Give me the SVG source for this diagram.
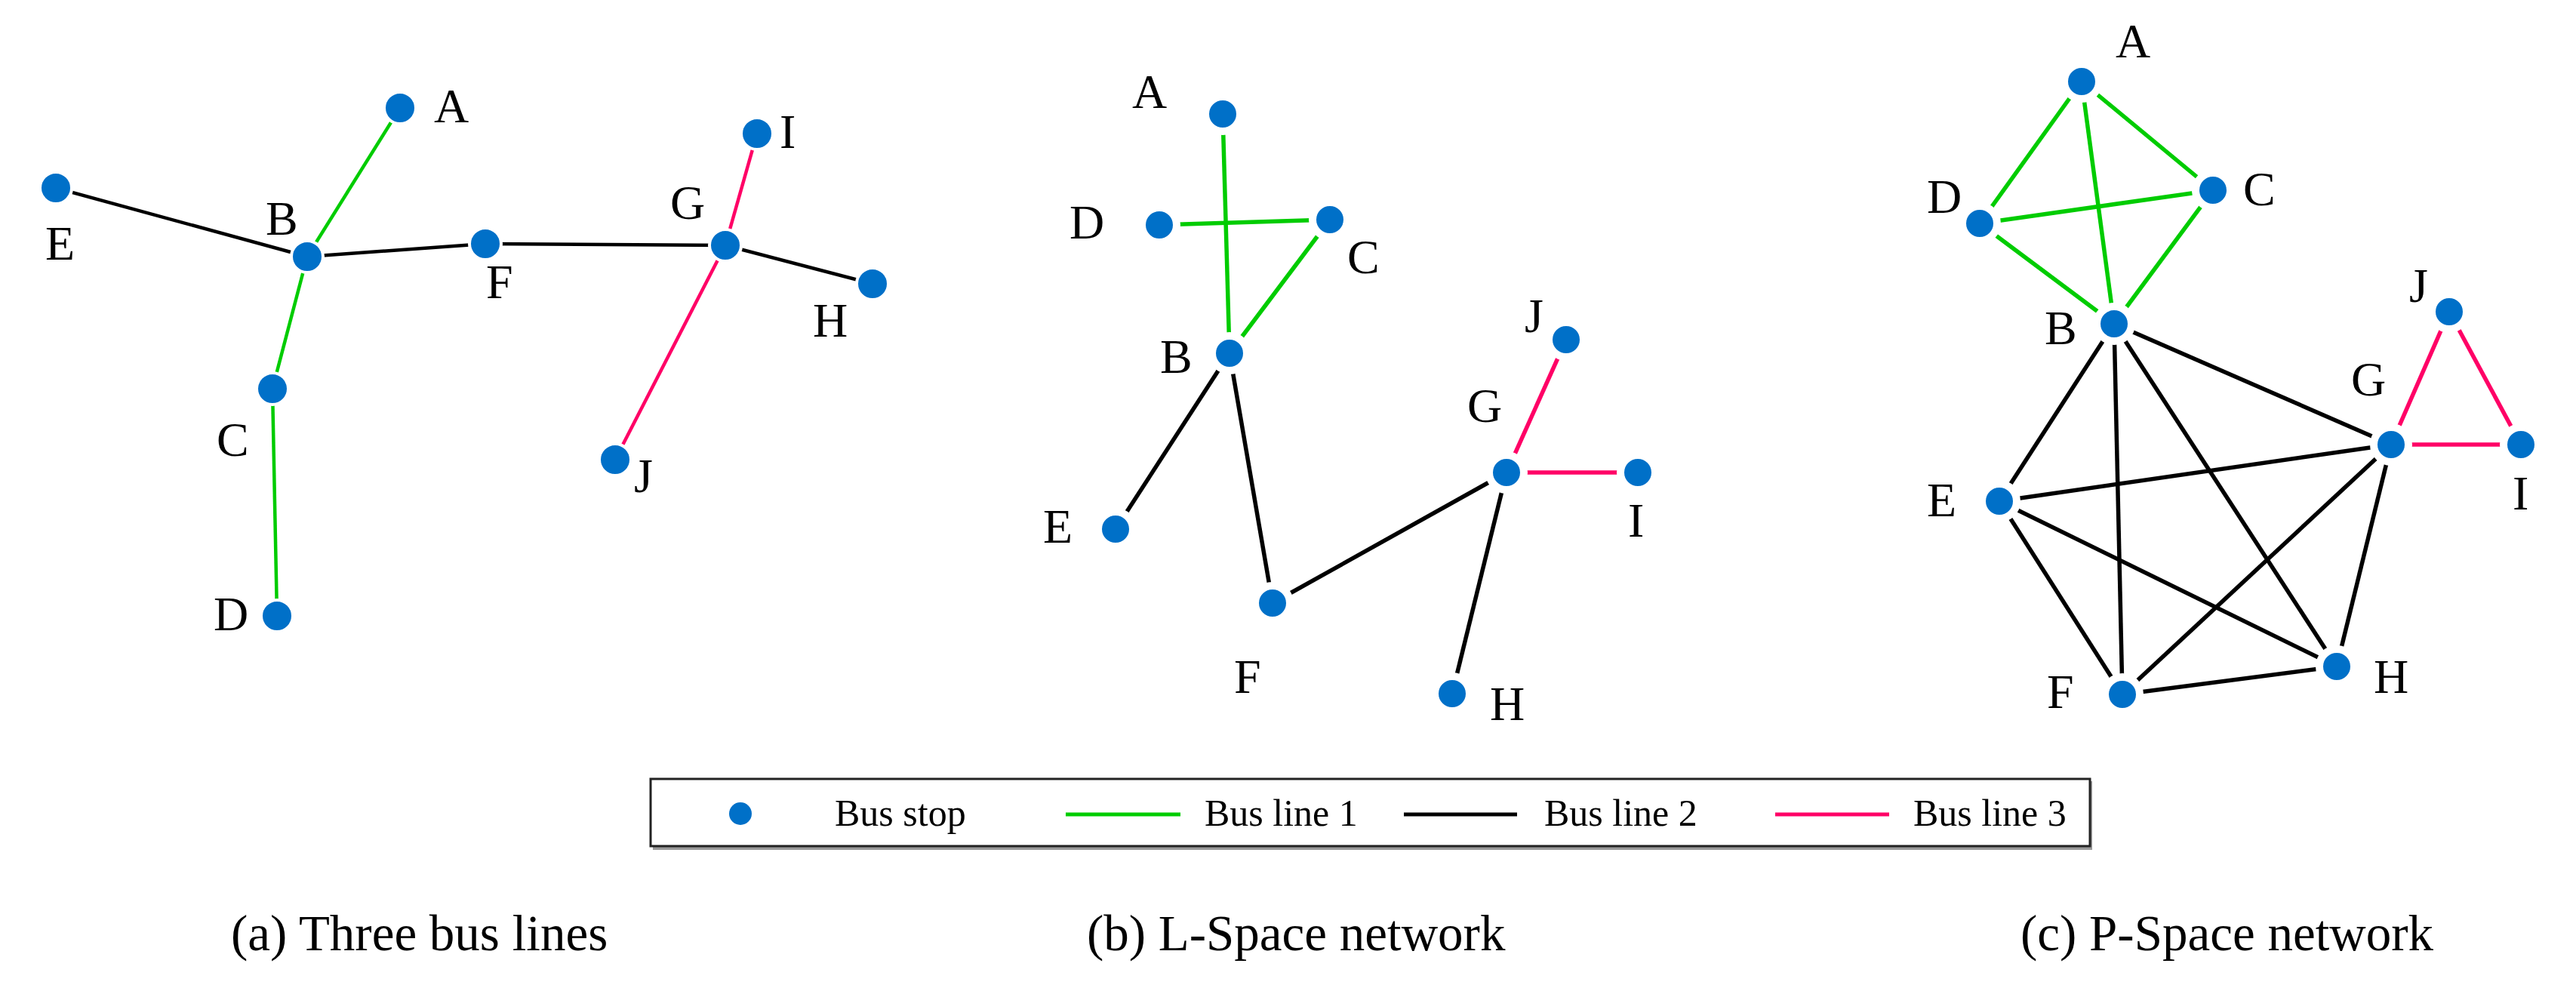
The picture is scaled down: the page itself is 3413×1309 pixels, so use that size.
<svg xmlns="http://www.w3.org/2000/svg" width="3413" height="1309" viewBox="0 0 3413 1309">
<style>
.stop{fill:#0070c8}
.pa .stop{stroke:#fff;stroke-width:4}
.pb .stop,.pc .stop{stroke:#fff;stroke-width:10}
.e{fill:none;stroke-linecap:butt}
.pa .e{stroke-width:4.5}
.pb .e,.pc .e{stroke-width:5.5}
.l1{stroke:#00cc00}
.l2{stroke:#000}
.l3{stroke:#ff0066}
.lbl{font-family:"Liberation Serif","Times New Roman",serif;font-size:64px;fill:#000}
.leg{font-family:"Liberation Serif","Times New Roman",serif;font-size:50px;fill:#000}
.cap{font-family:"Liberation Serif","Times New Roman",serif;font-size:67px;fill:#000}
</style>
<rect width="3413" height="1309" fill="#fff"/>

<!-- Panel (a) -->
<g class="pa">
<g id="a-connectors">
<line class="e l1" x1="530" y1="143" x2="407" y2="340"/>
<line class="e l1" x1="407" y1="340" x2="361" y2="515"/>
<line class="e l1" x1="361" y1="515" x2="367" y2="816"/>
<line class="e l2" x1="74" y1="249" x2="407" y2="340"/>
<line class="e l2" x1="407" y1="340" x2="643" y2="323"/>
<line class="e l2" x1="643" y1="323" x2="961" y2="325"/>
<line class="e l2" x1="961" y1="325" x2="1156" y2="376"/>
<line class="e l3" x1="1003" y1="177" x2="961" y2="325"/>
<line class="e l3" x1="961" y1="325" x2="815" y2="609"/>
</g>
<g id="a-A"><circle class="stop" cx="530" cy="143" r="21"/><text class="lbl" x="575" y="162">A</text></g>
<g id="a-B"><circle class="stop" cx="407" cy="340" r="21"/><text class="lbl" x="352" y="311">B</text></g>
<g id="a-C"><circle class="stop" cx="361" cy="515" r="21"/><text class="lbl" x="287" y="604">C</text></g>
<g id="a-D"><circle class="stop" cx="367" cy="816" r="21"/><text class="lbl" x="283" y="835">D</text></g>
<g id="a-E"><circle class="stop" cx="74" cy="249" r="21"/><text class="lbl" x="60" y="344">E</text></g>
<g id="a-F"><circle class="stop" cx="643" cy="323" r="21"/><text class="lbl" x="644" y="395">F</text></g>
<g id="a-G"><circle class="stop" cx="961" cy="325" r="21"/><text class="lbl" x="888" y="290">G</text></g>
<g id="a-H"><circle class="stop" cx="1156" cy="376" r="21"/><text class="lbl" x="1077" y="446">H</text></g>
<g id="a-I"><circle class="stop" cx="1003" cy="177" r="21"/><text class="lbl" x="1033" y="196">I</text></g>
<g id="a-J"><circle class="stop" cx="815" cy="609" r="21"/><text class="lbl" x="840" y="652">J</text></g>
</g>

<!-- Panel (b) -->
<g class="pb">
<g id="b-connectors">
<line class="e l1" x1="1620" y1="151" x2="1629" y2="468"/>
<line class="e l1" x1="1536" y1="298" x2="1762" y2="291"/>
<line class="e l1" x1="1762" y1="291" x2="1629" y2="468"/>
<line class="e l2" x1="1629" y1="468" x2="1478" y2="701"/>
<line class="e l2" x1="1629" y1="468" x2="1686" y2="799"/>
<line class="e l2" x1="1686" y1="799" x2="1996" y2="626"/>
<line class="e l2" x1="1996" y1="626" x2="1924" y2="919"/>
<line class="e l3" x1="1996" y1="626" x2="2075" y2="450"/>
<line class="e l3" x1="1996" y1="626" x2="2170" y2="626"/>
</g>
<g id="b-A"><circle class="stop" cx="1620" cy="151" r="23"/><text class="lbl" x="1500" y="143">A</text></g>
<g id="b-B"><circle class="stop" cx="1629" cy="468" r="23"/><text class="lbl" x="1537" y="494">B</text></g>
<g id="b-C"><circle class="stop" cx="1762" cy="291" r="23"/><text class="lbl" x="1785" y="362">C</text></g>
<g id="b-D"><circle class="stop" cx="1536" cy="298" r="23"/><text class="lbl" x="1417" y="316">D</text></g>
<g id="b-E"><circle class="stop" cx="1478" cy="701" r="23"/><text class="lbl" x="1382" y="719">E</text></g>
<g id="b-F"><circle class="stop" cx="1686" cy="799" r="23"/><text class="lbl" x="1635" y="918">F</text></g>
<g id="b-G"><circle class="stop" cx="1996" cy="626" r="23"/><text class="lbl" x="1944" y="559">G</text></g>
<g id="b-H"><circle class="stop" cx="1924" cy="919" r="23"/><text class="lbl" x="1974" y="954">H</text></g>
<g id="b-I"><circle class="stop" cx="2170" cy="626" r="23"/><text class="lbl" x="2157" y="711">I</text></g>
<g id="b-J"><circle class="stop" cx="2075" cy="450" r="23"/><text class="lbl" x="2020" y="440">J</text></g>
</g>

<!-- Panel (c) -->
<g class="pc">
<g id="c-connectors">
<line class="e l1" x1="2758" y1="108" x2="2623" y2="296"/>
<line class="e l1" x1="2758" y1="108" x2="2932" y2="252"/>
<line class="e l1" x1="2758" y1="108" x2="2801" y2="429"/>
<line class="e l1" x1="2623" y1="296" x2="2932" y2="252"/>
<line class="e l1" x1="2623" y1="296" x2="2801" y2="429"/>
<line class="e l1" x1="2932" y1="252" x2="2801" y2="429"/>
<line class="e l2" x1="2801" y1="429" x2="2649" y2="664"/>
<line class="e l2" x1="2801" y1="429" x2="2812" y2="920"/>
<line class="e l2" x1="2801" y1="429" x2="3096" y2="883"/>
<line class="e l2" x1="2801" y1="429" x2="3168" y2="589"/>
<line class="e l2" x1="2649" y1="664" x2="3168" y2="589"/>
<line class="e l2" x1="2649" y1="664" x2="2812" y2="920"/>
<line class="e l2" x1="2649" y1="664" x2="3096" y2="883"/>
<line class="e l2" x1="2812" y1="920" x2="3168" y2="589"/>
<line class="e l2" x1="2812" y1="920" x2="3096" y2="883"/>
<line class="e l2" x1="3168" y1="589" x2="3096" y2="883"/>
<line class="e l3" x1="3245" y1="413" x2="3168" y2="589"/>
<line class="e l3" x1="3245" y1="413" x2="3340" y2="589"/>
<line class="e l3" x1="3168" y1="589" x2="3340" y2="589"/>
</g>
<g id="c-A"><circle class="stop" cx="2758" cy="108" r="23"/><text class="lbl" x="2803" y="76">A</text></g>
<g id="c-B"><circle class="stop" cx="2801" cy="429" r="23"/><text class="lbl" x="2709" y="456">B</text></g>
<g id="c-C"><circle class="stop" cx="2932" cy="252" r="23"/><text class="lbl" x="2972" y="272">C</text></g>
<g id="c-D"><circle class="stop" cx="2623" cy="296" r="23"/><text class="lbl" x="2553" y="282">D</text></g>
<g id="c-E"><circle class="stop" cx="2649" cy="664" r="23"/><text class="lbl" x="2553" y="684">E</text></g>
<g id="c-F"><circle class="stop" cx="2812" cy="920" r="23"/><text class="lbl" x="2712" y="938">F</text></g>
<g id="c-G"><circle class="stop" cx="3168" cy="589" r="23"/><text class="lbl" x="3115" y="524">G</text></g>
<g id="c-H"><circle class="stop" cx="3096" cy="883" r="23"/><text class="lbl" x="3145" y="918">H</text></g>
<g id="c-I"><circle class="stop" cx="3340" cy="589" r="23"/><text class="lbl" x="3329" y="675">I</text></g>
<g id="c-J"><circle class="stop" cx="3245" cy="413" r="23"/><text class="lbl" x="3192" y="400">J</text></g>
</g>

<!-- Legend -->
<g id="legend">
<rect x="865" y="1035" width="1907" height="91" fill="#999"/>
<rect x="862" y="1032" width="1907" height="89" fill="#fff" stroke="#222" stroke-width="3"/>
<circle class="stop" cx="981" cy="1078" r="15"/>
<text class="leg" x="1106" y="1094">Bus stop</text>
<line class="l1" x1="1412" y1="1079" x2="1564" y2="1079" stroke-width="5"/>
<text class="leg" x="1596" y="1094">Bus line 1</text>
<line class="l2" x1="1860" y1="1079" x2="2010" y2="1079" stroke-width="5"/>
<text class="leg" x="2046" y="1094">Bus line 2</text>
<line class="l3" x1="2352" y1="1079" x2="2503" y2="1079" stroke-width="5"/>
<text class="leg" x="2535" y="1094">Bus line 3</text>
</g>

<!-- Captions -->
<text class="cap" x="306" y="1259">(a) Three bus lines</text>
<text class="cap" x="1440" y="1259">(b) L-Space network</text>
<text class="cap" x="2677" y="1259">(c) P-Space network</text>
</svg>
